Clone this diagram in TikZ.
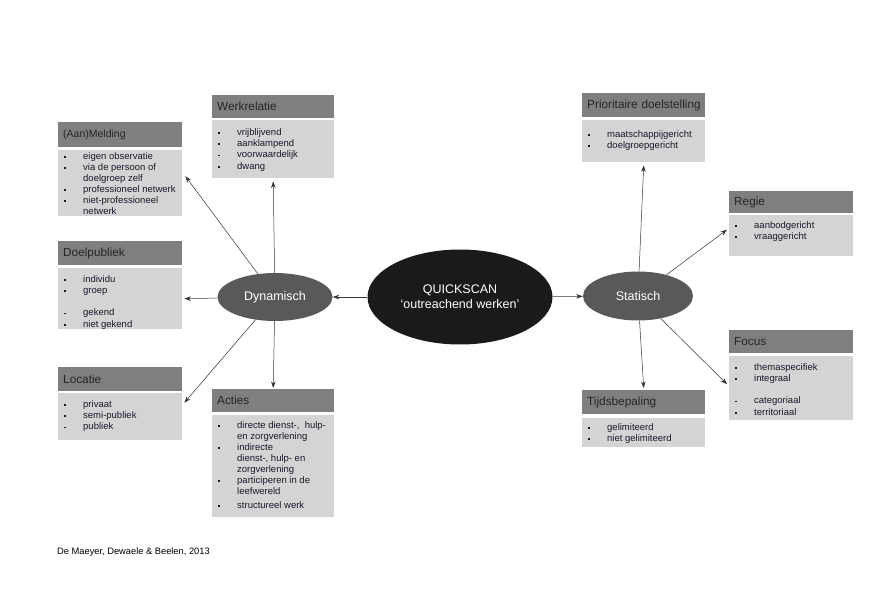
\documentclass[tikz,border=0pt]{standalone}
\usepackage{fontspec}
\setmainfont{Liberation Sans}
\usetikzlibrary{arrows.meta,shapes.geometric,positioning}

\definecolor{headgray}{HTML}{7F7F7F}
\definecolor{bodygray}{HTML}{D4D4D4}
\definecolor{hubgray}{HTML}{595959}
\definecolor{hubblack}{HTML}{1A1A1A}
\definecolor{inktext}{HTML}{1A1A2A}

% list lines inside the grey boxes
\newcommand{\itm}{\hspace*{6pt}\makebox[19pt][l]{\rule[0.3ex]{1.8pt}{1.8pt}}}
\newcommand{\cnt}{\hspace*{25pt}}

\begin{document}
\begin{tikzpicture}[x=1pt, y=-1pt,
    head/.style={fill=headgray, anchor=north west, inner xsep=5pt, inner ysep=0pt, align=left, text=black!85, font=\fontsize{11.8}{14}\selectfont},
    body/.style={fill=bodygray, anchor=north west, inner sep=0pt, text=inktext, font=\fontsize{9.5}{11.4}\selectfont},
    hub/.style={ellipse, inner sep=0pt, text=white, align=center, font=\fontsize{12.5}{15}\selectfont},
    arr/.style={-{Stealth[length=6.5pt,width=4.5pt]}, black!80, line width=0.5pt}
]
\useasboundingbox (0,0) rectangle (892,612);

% centre
\node[hub, fill=hubblack, minimum width=185pt, minimum height=95pt] (quick) at (460,297) {QUICKSCAN\\`outreachend werken'};
\node[hub, fill=hubgray, minimum width=115pt, minimum height=48pt] (dyn) at (275,297) {Dynamisch};
\node[hub, fill=hubgray, minimum width=110pt, minimum height=49pt] (stat) at (638,296) {Statisch};

% dynamic side
\node[head, text width=114pt, minimum height=25pt, font=\fontsize{10.5}{12}\selectfont] (meldingH) at (58,122) {(Aan)Melding};
\node[body] (meldingB) at (58,150) {\parbox[t][66pt][t]{124pt}{\fontsize{9.5}{11}\selectfont\raggedright\vspace*{2pt}
  \itm eigen observatie\\
  \itm via de persoon of\\
  \cnt doelgroep zelf\\
  \itm professioneel netwerk\\
  \itm niet-professioneel\\
  \cnt netwerk}};

\node[head, text width=112pt, minimum height=23pt] (werkH) at (212,95) {Werkrelatie};
\node[body] (werkB) at (212,120) {\parbox[t][58pt][t]{122pt}{\raggedright\vspace*{8pt}
  \itm vrijblijvend\\
  \itm aanklampend\\
  \itm voorwaardelijk\\
  \itm dwang}};

\node[head, text width=114pt, minimum height=24pt] (doelH) at (58,241) {Doelpubliek};
\node[body] (doelB) at (58,268) {\parbox[t][61pt][t]{124pt}{\raggedright\vspace*{7pt}
  \itm individu\\
  \itm groep\\[11pt]
  \itm gekend\\
  \itm niet gekend}};

\node[head, text width=114pt, minimum height=24pt] (locH) at (58,367) {Locatie};
\node[body] (locB) at (58,393) {\parbox[t][47pt][t]{124pt}{\raggedright\vspace*{7pt}
  \itm privaat\\
  \itm semi-publiek\\
  \itm publiek}};

\node[head, text width=112pt, minimum height=23pt] (actiesH) at (212,389) {Acties};
\node[body] (actiesB) at (212,415) {\parbox[t][102pt][t]{122pt}{\fontsize{9.5}{11.1}\selectfont\raggedright\vspace*{6pt}
  \itm directe dienst-,\ \ hulp-\\
  \cnt en zorgverlening\\
  \itm indirecte\\
  \cnt dienst-, hulp- en\\
  \cnt zorgverlening\\
  \itm participeren in de\\
  \cnt leefwereld\\[3pt]
  \itm structureel werk}};

% static side
\node[head, text width=113pt, minimum height=24pt] (prioH) at (582,93) {\mbox{Prioritaire doelstelling}};
\node[body] (prioB) at (582,120) {\parbox[t][42pt][t]{123pt}{\raggedright\vspace*{10pt}
  \itm maatschappijgericht\\
  \itm doelgroepgericht}};

\node[head, text width=114pt, minimum height=22pt] (regieH) at (729,191) {Regie};
\node[body] (regieB) at (729,215) {\parbox[t][41pt][t]{124pt}{\raggedright\vspace*{6pt}
  \itm aanbodgericht\\
  \itm vraaggericht}};

\node[head, text width=114pt, minimum height=23pt] (focusH) at (729,330) {Focus};
\node[body] (focusB) at (729,356) {\parbox[t][64pt][t]{124pt}{\raggedright\vspace*{7pt}
  \itm themaspecifiek\\
  \itm integraal\\[11pt]
  \itm categoriaal\\
  \itm territoriaal}};

\node[head, text width=113pt, minimum height=24pt] (tijdH) at (582,390) {Tijdsbepaling};
\node[body] (tijdB) at (582,418) {\parbox[t][29pt][t]{123pt}{\raggedright\vspace*{5pt}
  \itm gelimiteerd\\
  \itm niet gelimiteerd}};

% source
\node[anchor=west, inner sep=0pt, font=\fontsize{9.3}{11}\selectfont] (bron) at (57,552) {De Maeyer, Dewaele \& Beelen, 2013};

% connectors
\draw[arr] (quick) -- (dyn);
\draw[arr] (quick) -- (stat);
\draw[arr] (dyn) -- ([xshift=3pt,yshift=7pt]meldingB.east);
\draw[arr] (dyn) -- ([yshift=-3pt]werkB.south);
\draw[arr] (dyn) -- ([xshift=2pt]doelB.east);
\draw[arr] (dyn) -- ([xshift=2pt,yshift=14pt]locB.east);
\draw[arr] (dyn) -- ([yshift=1pt]actiesH.north);
\draw[arr] (stat) -- ([yshift=-3pt]prioB.south);
\draw[arr] (stat) -- ([xshift=-2pt,yshift=6pt]regieB.west);
\draw[arr] (stat) -- ([xshift=-2pt,yshift=4pt]focusB.west);
\draw[arr] (stat) -- ([yshift=2pt]tijdH.north);
\end{tikzpicture}
\end{document}
